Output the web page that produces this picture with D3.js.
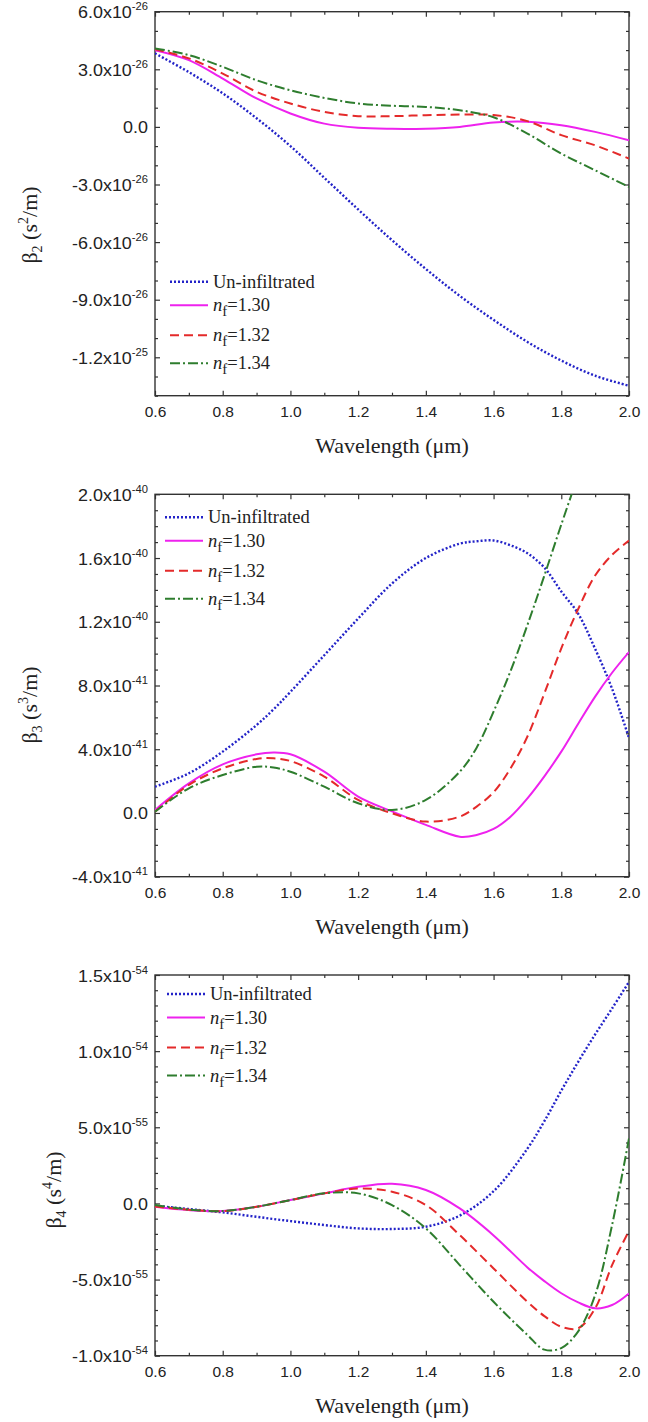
<!DOCTYPE html>
<html lang="en">
<head>
<meta charset="UTF-8">
<title>Dispersion of the infiltrated fibre</title>
<script src="https://d3js.org/d3.v7.min.js"></script>
<style>
  body { margin: 0; background: #fff; }
  svg text { fill: #222; }
  .tick text { font-family: "Liberation Sans", Arial, sans-serif; font-size: 15.5px; fill: #222; }
  .tick line { stroke: #333; stroke-width: 1.2; }
</style>
</head>
<body>
<svg id="chart" width="648" height="1422"></svg>
<script>
// ---- data ----
// beta2, unit 1e-26 s^2/m
const wl2 = [0.6, 0.7, 0.8, 0.9, 1.0, 1.1, 1.2, 1.3, 1.4, 1.5, 1.6, 1.7, 1.8, 1.9, 2.0];
const b2Plain = [3.83, 2.85, 1.75, 0.45, -1.0, -2.65, -4.3, -5.9, -7.4, -8.8, -10.05, -11.2, -12.17, -12.96, -13.48];
const b2n130 = [4.0, 3.48, 2.52, 1.48, 0.70, 0.17, -0.05, -0.1, -0.09, 0.0, 0.23, 0.27, 0.09, -0.26, -0.70];
const b2n132 = [4.05, 3.57, 2.78, 1.83, 1.22, 0.78, 0.56, 0.56, 0.61, 0.64, 0.62, 0.3, -0.43, -0.96, -1.65];
const b2n134 = [4.09, 3.74, 3.13, 2.43, 1.91, 1.51, 1.22, 1.10, 1.04, 0.87, 0.5, -0.35, -1.39, -2.26, -3.13];

// beta3, unit 1e-41 s^3/m
const wl3 = [0.6, 0.7, 0.8, 0.9, 0.95, 1.0, 1.1, 1.2, 1.3, 1.4, 1.5, 1.55, 1.6, 1.65, 1.7, 1.75, 1.8, 1.85, 1.9, 1.95, 2.0];
const b3Plain = [1.65, 2.49, 3.85, 5.52, 6.5, 7.6, 9.9, 12.2, 14.4, 16.0, 16.9, 17.05, 17.1, 16.8, 16.3, 15.4, 13.9, 12.5, 10.3, 7.8, 4.7];
const b3n130 = [0.19, 1.86, 3.05, 3.68, 3.79, 3.68, 2.59, 1.03, 0.1, -0.75, -1.49, -1.38, -1.0, -0.23, 0.92, 2.3, 3.85, 5.6, 7.3, 8.8, 10.1];
const b3n132 = [0.08, 1.76, 2.80, 3.39, 3.43, 3.26, 2.28, 0.82, -0.02, -0.54, -0.23, 0.4, 1.3, 2.8, 4.8, 7.5, 10.33, 12.8, 14.9, 16.2, 17.1];
const b3n134 = [0.08, 1.55, 2.38, 2.9, 2.85, 2.59, 1.65, 0.61, 0.19, 0.82, 2.59, 4.1, 6.36, 8.9, 11.8, 14.9, 18.1, 21.2, null, null, null];

// beta4, unit 1e-55 s^4/m
const wl4 = [0.6, 0.7, 0.8, 0.9, 1.0, 1.1, 1.2, 1.3, 1.4, 1.5, 1.6, 1.7, 1.75, 1.8, 1.85, 1.9, 1.95, 2.0];
const b4Plain = [-0.15, -0.37, -0.59, -0.88, -1.16, -1.42, -1.64, -1.68, -1.53, -0.8, 0.8, 3.6, 5.4, 7.4, 9.3, 11.1, 12.8, 14.55];
const b4n130 = [-0.22, -0.44, -0.5, -0.22, 0.22, 0.66, 1.09, 1.29, 0.88, -0.33, -2.1, -4.2, -5.1, -5.9, -6.5, -6.89, -6.67, -5.91];
const b4n132 = [-0.2, -0.42, -0.5, -0.22, 0.22, 0.66, 0.98, 0.77, -0.11, -2.08, -4.27, -6.46, -7.4, -8.1, -8.2, -6.89, -4.05, -1.8];
const b4n134 = [-0.1, -0.4, -0.5, -0.22, 0.22, 0.66, 0.66, -0.11, -1.64, -4.05, -6.46, -8.64, -9.6, -9.5, -8.4, -6.02, -1.42, 4.27];

const seriesNames = ["Un-infiltrated", "1.30", "1.32", "1.34"];
const xMajor = [0.6, 0.8, 1.0, 1.2, 1.4, 1.6, 1.8, 2.0];
const xMinor = [0.7, 0.9, 1.1, 1.3, 1.5, 1.7, 1.9];

const styles = [
    { color: "#2323c8", dash: "2,2", width: 2.4 },
    { color: "#ee22ee", dash: null, width: 2 },
    { color: "#e42a2a", dash: "9,5", width: 2 },
    { color: "#2e7d2e", dash: "10,3,2,3", width: 2 }
];

const panels = [
    { top: 11.7, bottom: 395.7, wl: wl2, series: [b2Plain, b2n130, b2n132, b2n134], unit: 1e-26,
      domain: [-14, 6], major: 3, idx: "2", titleX: 37, titleY: 225, legX: 170, legY: 281.7 },
    { top: 494.3, bottom: 876.7, wl: wl3, series: [b3Plain, b3n130, b3n132, b3n134], unit: 1e-41,
      domain: [-4, 20], major: 4, idx: "3", titleX: 37, titleY: 705, legX: 165, legY: 517.3 },
    { top: 975, bottom: 1355.7, wl: wl4, series: [b4Plain, b4n130, b4n132, b4n134], unit: 1e-55,
      domain: [-10, 15], major: 5, idx: "4", titleX: 61, titleY: 1190, legX: 167, legY: 994 }
];

const left = 155, right = 629;
const svg = d3.select("#chart");

function sciParts(v) {
    if (Math.abs(v) < 1e-80) return null;
    let e = Math.floor(Math.log10(Math.abs(v)) + 1e-9);
    let m = (v / Math.pow(10, e)).toFixed(1);
    return [m + "x10", String(e)];
}

panels.forEach((p, pi) => {
    const g = svg.append("g");
    const x = d3.scaleLinear().domain([0.6, 2.0]).range([left, right]);
    const y = d3.scaleLinear().domain(p.domain).range([p.bottom, p.top]);

    const yMajor = d3.range(p.domain[0], p.domain[1] + 0.001, 1).filter(v => Math.abs(v % p.major) < 1e-9);
    const yMinor = d3.range(p.domain[0], p.domain[1] + 0.001, 1).filter(v => Math.abs(v % p.major) > 1e-9);

    const clipId = "clip" + pi;
    g.append("clipPath").attr("id", clipId)
        .append("rect").attr("x", left).attr("y", p.top).attr("width", right - left).attr("height", p.bottom - p.top);

    // ticks, all pointing inward
    g.append("g").attr("transform", `translate(0,${p.bottom})`)
        .call(d3.axisBottom(x).tickValues(xMajor).tickSize(-5).tickPadding(10).tickFormat(d3.format(".1f")));
    g.append("g").attr("transform", `translate(0,${p.bottom})`)
        .call(d3.axisBottom(x).tickValues(xMinor).tickSize(-3).tickFormat(""));
    g.append("g").attr("transform", `translate(0,${p.top})`)
        .call(d3.axisTop(x).tickValues(xMajor).tickSize(-5).tickFormat(""));
    g.append("g").attr("transform", `translate(0,${p.top})`)
        .call(d3.axisTop(x).tickValues(xMinor).tickSize(-3).tickFormat(""));
    g.append("g").attr("transform", `translate(${left},0)`)
        .call(d3.axisLeft(y).tickValues(yMajor).tickSize(-5).tickFormat(""));
    g.append("g").attr("transform", `translate(${left},0)`)
        .call(d3.axisLeft(y).tickValues(yMinor).tickSize(-3).tickFormat(""));
    g.append("g").attr("transform", `translate(${right},0)`)
        .call(d3.axisRight(y).tickValues(yMajor).tickSize(-5).tickFormat(""));
    g.append("g").attr("transform", `translate(${right},0)`)
        .call(d3.axisRight(y).tickValues(yMinor).tickSize(-3).tickFormat(""));
    g.selectAll(".domain").remove();

    g.append("rect").attr("x", left).attr("y", p.top)
        .attr("width", right - left).attr("height", p.bottom - p.top)
        .attr("fill", "none").attr("stroke", "#333").attr("stroke-width", 1.4);

    // y tick labels like 3.0x10^-26
    yMajor.forEach(v => {
        const parts = sciParts(v * p.unit);
        const t = g.append("text")
            .attr("transform", `translate(148,${y(v) + 6.5}) scale(1.12,1)`)
            .attr("text-anchor", "end")
            .style("font-family", "'Liberation Sans', Arial, sans-serif")
            .style("font-size", "16px");
        if (!parts) { t.text("0.0"); return; }
        t.append("tspan").text(parts[0]);
        t.append("tspan").attr("dy", -8).style("font-size", "10px").text(parts[1]);
    });

    // curves
    const line = d3.line()
        .defined(d => d[1] != null)
        .x(d => x(d[0])).y(d => y(d[1]))
        .curve(d3.curveCatmullRom.alpha(0.5));
    const plot = g.append("g").attr("clip-path", `url(#${clipId})`);
    p.series.forEach((s, si) => {
        const st = styles[si];
        plot.append("path")
            .datum(p.wl.map((w, i) => [w, s[i]]))
            .attr("d", line)
            .attr("fill", "none")
            .attr("stroke", st.color)
            .attr("stroke-width", st.width)
            .attr("stroke-dasharray", st.dash);
    });

    // legend
    const rowOff = [0, 23.5, 53.5, 81.5];
    seriesNames.forEach((name, si) => {
        const st = styles[si];
        const ry = p.legY + rowOff[si];
        g.append("line").attr("x1", p.legX).attr("x2", p.legX + 38)
            .attr("y1", ry).attr("y2", ry)
            .attr("stroke", st.color).attr("stroke-width", st.width)
            .attr("stroke-dasharray", st.dash);
        const t = g.append("text").attr("x", p.legX + 43).attr("y", ry + 6)
            .style("font-family", "'Liberation Serif', 'Times New Roman', serif")
            .style("font-size", "18.5px");
        if (si === 0) { t.text(name); return; }
        t.append("tspan").style("font-style", "italic").text("n");
        t.append("tspan").attr("dy", 5).style("font-size", "15px").text("f");
        t.append("tspan").attr("dy", -5).text("=" + name);
    });

    // axis titles
    g.append("text")
        .attr("x", 392).attr("y", p.bottom + 57)
        .attr("text-anchor", "middle")
        .style("font-family", "'Liberation Serif', 'Times New Roman', serif")
        .style("font-size", "22px")
        .text("Wavelength (\u03bcm)");

    const yt = g.append("text")
        .attr("transform", `translate(${p.titleX},${p.titleY}) rotate(-90)`)
        .attr("text-anchor", "middle")
        .style("font-family", "'Liberation Serif', 'Times New Roman', serif")
        .style("font-size", "22px");
    yt.append("tspan").text("\u03b2");
    yt.append("tspan").attr("dy", 5).style("font-size", "14px").text(p.idx);
    yt.append("tspan").attr("dy", -5).text(" (s");
    yt.append("tspan").attr("dy", -9).style("font-size", "14px").text(p.idx);
    yt.append("tspan").attr("dy", 9).text("/m)");
});
</script>
</body>
</html>
